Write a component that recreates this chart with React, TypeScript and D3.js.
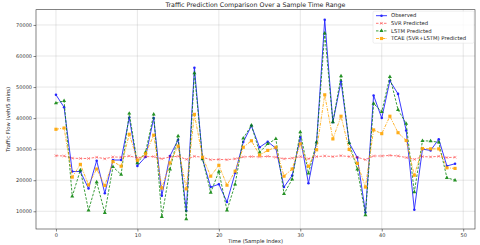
import React, { useEffect, useRef } from "react";
import * as d3 from "d3";

const observed = [47500, 43500, 22800, 22800, 17300, 26300, 15800, 26500, 26500, 40200, 24600, 27500, 40000, 15000, 27800, 33000, 10200, 56200, 26800, 17800, 18700, 13000, 22300, 32300, 37500, 30600, 32400, 30300, 17800, 21500, 33800, 19000, 32200, 71700, 38700, 51800, 32000, 27300, 9600, 47300, 40000, 52000, 47800, 36000, 10500, 30000, 29600, 33200, 24600, 25300];
const svrPred = [27900, 27800, 27100, 27000, 27000, 27400, 26900, 27500, 27400, 27800, 27200, 27600, 27600, 26900, 27500, 27700, 26700, 27700, 27400, 26600, 26700, 26600, 26900, 27500, 27600, 27500, 27700, 27400, 26900, 27100, 27600, 26900, 27600, 27800, 27600, 27900, 27600, 27400, 26600, 27800, 27800, 28000, 27800, 27300, 26700, 27600, 27500, 27700, 27300, 27400];
const lstmPred = [44800, 45600, 14800, 23300, 10300, 19400, 9500, 24300, 21800, 41500, 25500, 29000, 41200, 8200, 23500, 34200, 7500, 54500, 26800, 16000, 22800, 10300, 18700, 33500, 37700, 29000, 31700, 33300, 15600, 20300, 35500, 22200, 32200, 67300, 38700, 53500, 32000, 23500, 8800, 44700, 42000, 53300, 42700, 38200, 16200, 32700, 32600, 32200, 20800, 20000];
const tcaePred = [36400, 36800, 21000, 25100, 18500, 23600, 18300, 26000, 24500, 34800, 26400, 28500, 34500, 17500, 25600, 31000, 17200, 41200, 27400, 21300, 24800, 18400, 22900, 30600, 32700, 28100, 29600, 30600, 21300, 23600, 31700, 24500, 29800, 47500, 33300, 40600, 29900, 25400, 17800, 36200, 35000, 40600, 35300, 32800, 21600, 30200, 30100, 30100, 24000, 23800];
const seriesNames = ["Observed", "SVR Predicted", "LSTM Predicted", "TCAE (SVR+LSTM) Predicted"];
const xTicks = [0, 10, 20, 30, 40, 50];
const yTicks = [10000, 20000, 30000, 40000, 50000, 60000, 70000];

const W = 480, H = 245;
const margin = { top: 9.7, right: 5, bottom: 16, left: 36 };
const font = "DejaVu Sans, sans-serif";

export default function App() {
  const ref = useRef<SVGSVGElement>(null);

  useEffect(() => {
    const svg = d3.select(ref.current);
    svg.selectAll("*").remove();
    const iw = W - margin.left - margin.right;
    const ih = H - margin.top - margin.bottom;

    const all = [observed, svrPred, lstmPred, tcaePred];
    const lo = d3.min(all, a => d3.min(a))!;
    const hi = d3.max(all, a => d3.max(a))!;
    const pad = (hi - lo) * 0.05;
    const n = observed.length - 1;

    const x = d3.scaleLinear().domain([-n * 0.05, n * 1.05]).range([0, iw]);
    const y = d3.scaleLinear().domain([lo - pad, hi + pad]).range([ih, 0]);

    const g = svg.append("g").attr("transform", `translate(${margin.left},${margin.top})`);

    // grid
    g.append("g").selectAll("line").data(xTicks).enter().append("line")
      .attr("x1", d => x(d)).attr("x2", d => x(d)).attr("y1", 0).attr("y2", ih)
      .attr("stroke", "#b0b0b0").attr("stroke-opacity", 0.5).attr("stroke-width", 0.6);
    g.append("g").selectAll("line").data(yTicks).enter().append("line")
      .attr("x1", 0).attr("x2", iw).attr("y1", d => y(d)).attr("y2", d => y(d))
      .attr("stroke", "#b0b0b0").attr("stroke-opacity", 0.5).attr("stroke-width", 0.6);

    const xAxis = g.append("g").attr("transform", `translate(0,${ih})`)
      .call(d3.axisBottom(x).tickValues(xTicks).tickSize(2.5).tickPadding(1.5).tickFormat(d3.format("d")));
    const yAxis = g.append("g")
      .call(d3.axisLeft(y).tickValues(yTicks).tickSize(2.5).tickPadding(1.5).tickFormat(d3.format("d")));
    [xAxis, yAxis].forEach(a => {
      a.select(".domain").remove();
      a.selectAll("line").attr("stroke", "#333").attr("stroke-width", 0.6);
      a.selectAll("text").attr("fill", "#333").style("font-family", font).style("font-size", "5px");
    });

    g.append("rect").attr("x", 0).attr("y", 0).attr("width", iw).attr("height", ih)
      .attr("fill", "none").attr("stroke", "#333").attr("stroke-width", 0.6);

    const styles = [
      { data: observed, color: "#0000ff", dash: "", marker: "circle", opacity: 0.85 },
      { data: svrPred, color: "#ff0000", dash: "2.5,1.5", marker: "x", opacity: 0.6 },
      { data: lstmPred, color: "#008000", dash: "2.5,1.5", marker: "triangle", opacity: 0.85 },
      { data: tcaePred, color: "#ffa500", dash: "3,1.2,1,1.2", marker: "square", opacity: 0.9 },
    ];

    const line = d3.line<number>().x((_, i) => x(i)).y(d => y(d));
    const sym: Record<string, d3.SymbolType> = {
      circle: d3.symbolCircle, x: d3.symbolTimes, triangle: d3.symbolTriangle, square: d3.symbolSquare,
    };
    const size: Record<string, number> = { circle: 5, x: 6, triangle: 7, square: 10 };

    const drawMarker = (sel: any, s: typeof styles[0], px: number, py: number) => {
      const p = d3.symbol().type(sym[s.marker]).size(size[s.marker])();
      const m = sel.append("path").attr("d", p).attr("transform", `translate(${px},${py})`);
      if (s.marker === "x") m.attr("fill", "none").attr("stroke", s.color).attr("stroke-width", 0.6);
      else m.attr("fill", s.color);
    };

    styles.forEach(s => {
      const sg = g.append("g").attr("opacity", s.opacity);
      sg.append("path").datum(s.data).attr("d", line).attr("fill", "none")
        .attr("stroke", s.color).attr("stroke-width", 0.9).attr("stroke-dasharray", s.dash || null);
      s.data.forEach((v, i) => drawMarker(sg, s, x(i), y(v)));
    });

    // legend
    const lg = g.append("g").attr("transform", `translate(${iw - 102},1.5)`);
    lg.append("rect").attr("width", 101).attr("height", 32).attr("rx", 1.5)
      .attr("fill", "white").attr("fill-opacity", 0.8).attr("stroke", "#ddd").attr("stroke-width", 0.5);
    seriesNames.forEach((name, i) => {
      const s = styles[i];
      const yy = 4.5 + i * 7.6;
      const eg = lg.append("g").attr("opacity", s.opacity);
      eg.append("line").attr("x1", 3).attr("x2", 14).attr("y1", yy).attr("y2", yy)
        .attr("stroke", s.color).attr("stroke-width", 0.9).attr("stroke-dasharray", s.dash || null);
      drawMarker(eg, s, 8.5, yy);
      lg.append("text").attr("x", 18).attr("y", yy + 1.8).text(name)
        .style("font-family", font).style("font-size", "5.3px").attr("fill", "#222");
    });

    svg.append("text").attr("x", margin.left + iw / 2).attr("y", 7).attr("text-anchor", "middle")
      .style("font-family", font).style("font-size", "6.3px").attr("fill", "#222")
      .text("Traffic Prediction Comparison Over a Sample Time Range");
    svg.append("text").attr("x", margin.left + iw / 2).attr("y", 242.5).attr("text-anchor", "middle")
      .style("font-family", font).style("font-size", "5.3px").attr("fill", "#222")
      .text("Time (Sample Index)");
    svg.append("text").attr("transform", `translate(9.5,${margin.top + ih / 2}) rotate(-90)`)
      .attr("text-anchor", "middle")
      .style("font-family", font).style("font-size", "5.3px").attr("fill", "#222")
      .text("Traffic Flow (veh/5 mins)");
  }, []);

  return (
    <svg ref={ref} width={W} height={H}
      style={{ position: "absolute", left: 0, top: 0, background: "white" }} />
  );
}
